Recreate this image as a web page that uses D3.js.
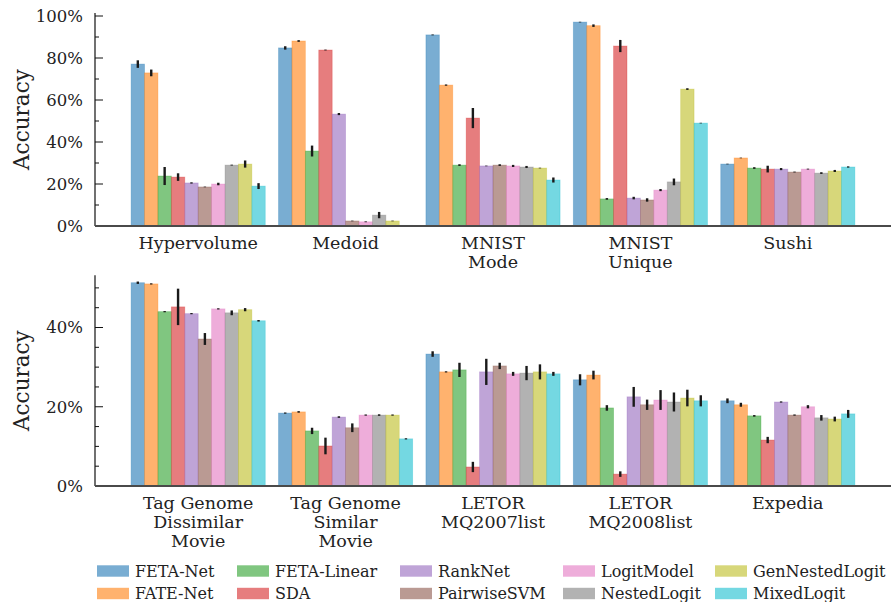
<!DOCTYPE html>
<html>
<head>
<meta charset="utf-8">
<script src="https://d3js.org/d3.v7.min.js"></script>
<style>
  body { margin: 0; background: #fff; }
  svg { display: block; }
  text { font-family: "DejaVu Serif", serif; fill: #222; }
</style>
</head>
<body>
<svg id="chart" width="891" height="602"></svg>
<script>
// models (legend order follows bar order)
var models = ["FETA-Net", "FATE-Net", "FETA-Linear", "SDA", "RankNet",
  "PairwiseSVM", "LogitModel", "NestedLogit", "GenNestedLogit", "MixedLogit"];
var colors = ["#1f77b4", "#ff7f0e", "#2ca02c", "#d62728", "#9467bd",
  "#8c564b", "#e377c2", "#7f7f7f", "#bcbd22", "#17becf"];

// top panel
var topCategories = ["Hypervolume", "Medoid", "MNIST\nMode", "MNIST\nUnique", "Sushi"];
var topValues = [
  [77.1, 72.9, 23.8, 23.3, 20.5, 18.6, 20.0, 29.0, 29.5, 19.0],
  [84.8, 88.1, 35.7, 83.8, 53.3, 2.4, 2.0, 5.2, 2.4, 0.3],
  [91.0, 67.1, 29.0, 51.4, 28.6, 29.0, 28.6, 28.1, 27.6, 21.9],
  [97.1, 95.4, 12.9, 85.7, 13.3, 12.4, 17.1, 21.0, 65.2, 49.0],
  [29.5, 32.4, 27.6, 27.1, 27.1, 25.7, 27.1, 25.2, 26.2, 28.1]
];
var topErrors = [
  [1.8, 1.6, 4.3, 1.8, 0.3, 0.1, 0.6, 0.2, 1.7, 1.4],
  [0.8, 0.4, 2.6, 0.2, 0.5, 0.1, 0.2, 1.5, 0.1, 0.1],
  [0.2, 0.3, 0.4, 4.8, 0.1, 0.4, 0.5, 0.5, 0.1, 1.2],
  [0.1, 0.6, 0.4, 2.9, 0.6, 0.8, 0.5, 1.6, 0.4, 0.1],
  [0.1, 0.1, 0.4, 1.6, 0.5, 0.2, 0.2, 0.4, 0.5, 0.3]
];

// bottom panel
var bottomCategories = ["Tag Genome\nDissimilar\nMovie", "Tag Genome\nSimilar\nMovie",
  "LETOR\nMQ2007list", "LETOR\nMQ2008list", "Expedia"];
var bottomValues = [
  [51.3, 51.0, 44.0, 45.2, 43.5, 37.1, 44.7, 43.7, 44.5, 41.7],
  [18.4, 18.7, 13.9, 10.1, 17.4, 14.7, 17.9, 17.9, 17.9, 11.9],
  [33.3, 28.8, 29.3, 4.8, 28.8, 30.3, 28.3, 28.5, 28.8, 28.3],
  [26.8, 28.0, 19.7, 3.0, 22.5, 20.5, 21.7, 21.2, 22.2, 21.5],
  [21.5, 20.5, 17.7, 11.6, 21.2, 17.9, 20.0, 17.2, 16.9, 18.2]
];
var bottomErrors = [
  [0.3, 0.1, 0.1, 4.6, 0.1, 1.5, 0.1, 0.6, 0.4, 0.2],
  [0.05, 0.2, 0.8, 2.1, 0.2, 1.1, 0.1, 0.2, 0.1, 0.05],
  [0.7, 0.1, 1.8, 1.3, 3.3, 0.8, 0.5, 1.8, 1.9, 0.5],
  [1.4, 1.1, 0.7, 0.7, 2.5, 1.3, 2.5, 2.4, 2.1, 1.4],
  [0.6, 0.5, 0.2, 0.8, 0.1, 0.05, 0.4, 0.7, 0.6, 1.0]
];

var topTicks = [0, 20, 40, 60, 80, 100];
var bottomTicks = [0, 20, 40];

var svg = d3.select("#chart");
var left = 95, right = 891;
var barW = 0.091;

var x = d3.scaleLinear().domain([-0.7, 4.7]).range([left, right]);

function panel(cats, vals, errs, y, ymax, ticks, minorStep, labelY) {
  var g = svg.append("g");

  // bars
  cats.forEach(function (c, i) {
    var gg = g.append("g");
    gg.selectAll("rect").data(vals[i]).enter().append("rect")
      .attr("x", function (d, j) { return x(i - 5 * barW + j * barW); })
      .attr("width", x(barW) - x(0))
      .attr("y", function (d) { return y(d); })
      .attr("height", function (d) { return y(0) - y(d); })
      .attr("fill", function (d, j) { return colors[j]; })
      .attr("fill-opacity", 0.6)
      .attr("stroke", function (d, j) { return colors[j]; })
      .attr("stroke-opacity", 0.35)
      .attr("stroke-width", 0.8);
    gg.selectAll("line").data(vals[i]).enter().append("line")
      .attr("x1", function (d, j) { return x(i - 4.5 * barW + j * barW); })
      .attr("x2", function (d, j) { return x(i - 4.5 * barW + j * barW); })
      .attr("y1", function (d, j) { return y(d - Math.max(errs[i][j], 0.15)); })
      .attr("y2", function (d, j) { return y(d + Math.max(errs[i][j], 0.15)); })
      .attr("stroke", "#1a1a1a")
      .attr("stroke-width", 2.4);
  });

  // y axis: inward ticks, labels only on the majors
  var minor = d3.range(0, ymax + 0.001, minorStep);
  g.selectAll(".minor").data(minor).enter().append("line")
    .attr("x1", left).attr("x2", function (d) { return ticks.indexOf(d) >= 0 ? left + 8 : left + 4; })
    .attr("y1", function (d) { return y(d); }).attr("y2", function (d) { return y(d); })
    .attr("stroke", "#111").attr("stroke-width", 1);
  g.selectAll(".tl").data(ticks).enter().append("text")
    .attr("x", left - 12).attr("y", function (d) { return y(d); })
    .attr("dy", "0.36em").attr("text-anchor", "end")
    .style("font-size", "16.5px").text(function (d) { return d + "%"; });

  var yTopEdge = y(ymax * 1.014 + (ymax < 60 ? 2.5 : 0));
  g.append("line").attr("x1", left).attr("x2", left)
    .attr("y1", y(0)).attr("y2", yTopEdge)
    .attr("stroke", "#111").attr("stroke-width", 1.2);
  g.append("line").attr("x1", left).attr("x2", right)
    .attr("y1", y(0)).attr("y2", y(0))
    .attr("stroke", "#4a4a4a").attr("stroke-width", 2.2);

  // axis title
  var yc = (y(0) + yTopEdge) / 2;
  g.append("text").attr("transform", "translate(29," + yc + ") rotate(-90)")
    .attr("text-anchor", "middle").style("font-size", "21.5px").text("Accuracy");

  // category labels
  cats.forEach(function (c, i) {
    var t = g.append("text").attr("x", x(i)).attr("y", labelY)
      .attr("text-anchor", "middle").style("font-size", "17.5px");
    c.split("\n").forEach(function (line, k) {
      t.append("tspan").attr("x", x(i)).attr("dy", k === 0 ? 0 : 19.3).text(line);
    });
  });
}

var yTop = d3.scaleLinear().domain([0, 100]).range([226, 16]);
var yBottom = d3.scaleLinear().domain([0, 20]).range([486, 406.75]);

panel(topCategories, topValues, topErrors, yTop, 100, topTicks, 10, 248.5);
panel(bottomCategories, bottomValues, bottomErrors, yBottom, 50, bottomTicks, 5, 508.5);

// legend, column-wise order
var legX = [97, 237, 400, 563, 715];
var legY = [571, 593.5];
var leg = svg.append("g");
models.forEach(function (m, j) {
  var cx = legX[Math.floor(j / 2)], cy = legY[j % 2];
  leg.append("rect").attr("x", cx).attr("y", cy - 5.7).attr("width", 32).attr("height", 11.4)
    .attr("fill", colors[j]).attr("fill-opacity", 0.6);
  leg.append("text").attr("x", cx + 38).attr("y", cy).attr("dy", "0.36em")
    .style("font-size", "16px").text(m);
});
</script>
</body>
</html>
